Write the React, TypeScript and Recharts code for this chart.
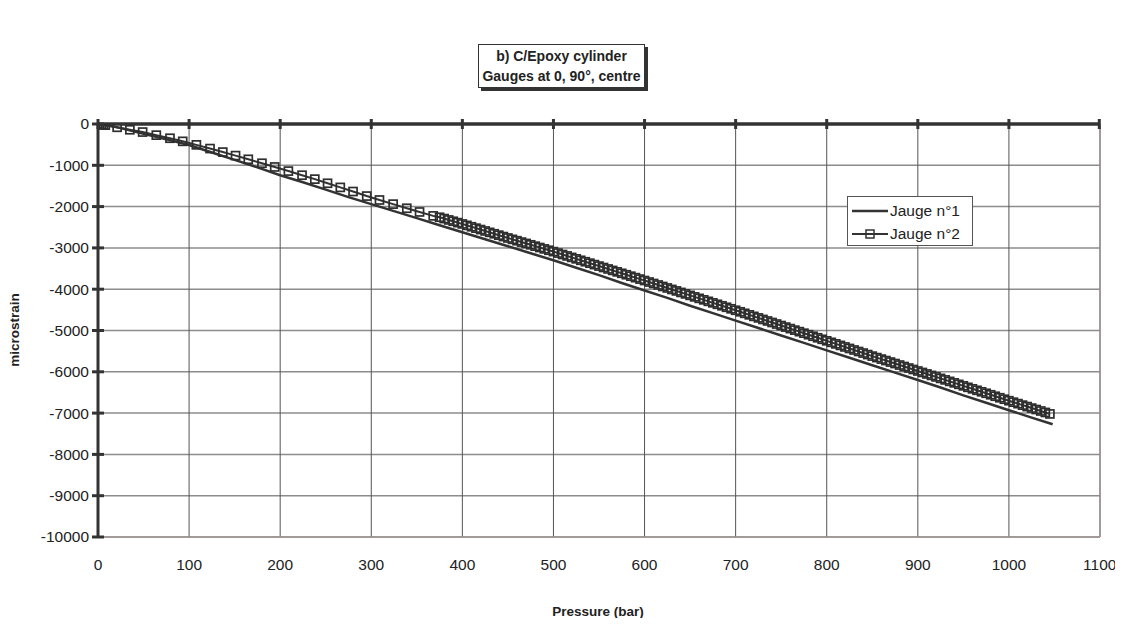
import {
  LineChart,
  Line,
  XAxis,
  YAxis,
  CartesianGrid,
  ReferenceLine,
  Legend,
} from "recharts";

const FONT = '"Liberation Sans", Arial, Helvetica, sans-serif';

// Jauge n°1 (plain line)
const gauge1Pressure = [
  0, 10, 25, 50, 75, 100, 125, 150, 175, 200, 225, 250, 275, 300, 325, 350,
  375, 400, 425, 450, 475, 500, 525, 550, 575, 600, 625, 650, 675, 700, 725,
  750, 775, 800, 825, 850, 875, 900, 925, 950, 975, 1000, 1025, 1048,
];
const gauge1Strain = [
  0, -30, -100, -240, -370, -510, -690, -870, -1050, -1240, -1410, -1590,
  -1770, -1940, -2110, -2280, -2450, -2620, -2790, -2960, -3130, -3300, -3480,
  -3660, -3850, -4030, -4210, -4400, -4580, -4760, -4940, -5120, -5300, -5480,
  -5660, -5840, -6020, -6200, -6380, -6570, -6750, -6930, -7110, -7270,
];

// Jauge n°2 (line with square markers)
const gauge2Pressure = [
  0, 2, 4, 6, 8, 21, 35, 49, 64, 79, 93, 108, 123, 137, 151, 165, 180, 194,
  209, 224, 238, 252, 266, 280, 295, 309, 324, 339, 353, 368,
  375, 380, 385, 390, 395, 400, 405, 410, 415, 420,
  425, 430, 435, 440, 445, 450, 455, 460, 465, 470,
  475, 480, 485, 490, 495, 500, 505, 510, 515, 520,
  525, 530, 535, 540, 545, 550, 555, 560, 565, 570,
  575, 580, 585, 590, 595, 600, 605, 610, 615, 620,
  625, 630, 635, 640, 645, 650, 655, 660, 665, 670,
  675, 680, 685, 690, 695, 700, 705, 710, 715, 720,
  725, 730, 735, 740, 745, 750, 755, 760, 765, 770,
  775, 780, 785, 790, 795, 800, 805, 810, 815, 820,
  825, 830, 835, 840, 845, 850, 855, 860, 865, 870,
  875, 880, 885, 890, 895, 900, 905, 910, 915, 920,
  925, 930, 935, 940, 945, 950, 955, 960, 965, 970,
  975, 980, 985, 990, 995, 1000, 1005, 1010, 1015, 1020,
  1025, 1030, 1035, 1040, 1045,
];
const gauge2Strain = [
  0, -6, -13, -20, -28, -80, -140, -195, -270, -345, -420, -505, -595, -680,
  -765, -855, -950, -1040, -1140, -1240, -1335, -1435, -1535, -1635, -1745,
  -1840, -1940, -2040, -2130, -2225,
  -2258, -2290, -2323, -2355, -2388, -2420, -2454, -2488, -2522, -2556,
  -2590, -2624, -2658, -2692, -2726, -2760, -2793, -2826, -2859, -2892,
  -2925, -2958, -2991, -3024, -3057, -3090, -3125, -3160, -3195, -3230,
  -3265, -3300, -3335, -3370, -3405, -3440, -3475, -3510, -3545, -3580,
  -3615, -3650, -3685, -3720, -3755, -3790, -3826, -3862, -3898, -3934,
  -3970, -4006, -4042, -4078, -4114, -4150, -4186, -4222, -4258, -4294,
  -4330, -4366, -4402, -4438, -4474, -4510, -4547, -4584, -4621, -4658,
  -4695, -4732, -4769, -4806, -4843, -4880, -4917, -4954, -4991, -5028,
  -5065, -5102, -5139, -5176, -5213, -5250, -5287, -5324, -5361, -5398,
  -5435, -5472, -5509, -5546, -5583, -5620, -5656, -5692, -5728, -5764,
  -5800, -5836, -5872, -5908, -5944, -5980, -6016, -6052, -6088, -6124,
  -6160, -6196, -6232, -6268, -6304, -6340, -6376, -6412, -6448, -6484,
  -6520, -6556, -6592, -6628, -6664, -6700, -6736, -6771, -6807, -6842,
  -6878, -6913, -6949, -6984, -7020,
];

const xTicks = [0, 100, 200, 300, 400, 500, 600, 700, 800, 900, 1000, 1100];
const yTicks = [
  0, -1000, -2000, -3000, -4000, -5000, -6000, -7000, -8000, -9000, -10000,
];

const gauge1 = gauge1Pressure.map((p, i) => ({ pressure: p, strain: gauge1Strain[i] }));
const gauge2 = gauge2Pressure.map((p, i) => ({ pressure: p, strain: gauge2Strain[i] }));

const INK = "#333";

function SquareDot(props: any) {
  const { cx, cy, index } = props;
  if (cx == null || cy == null) return null;
  return (
    <rect
      key={`sq-${index}`}
      x={cx - 4}
      y={cy - 4}
      width={8}
      height={8}
      fill="none"
      stroke="#2e2e2e"
      strokeWidth={1.7}
    />
  );
}

function YTick(props: any) {
  const { x, y, payload } = props;
  return (
    <g>
      <line x1={x - 6} x2={x + 6} y1={y} y2={y} stroke={INK} strokeWidth={3} />
      <text
        x={x - 9}
        y={y}
        dy="0.35em"
        textAnchor="end"
        fontSize={15.5}
        fontFamily={FONT}
        fill="#222"
      >
        {payload.value}
      </text>
    </g>
  );
}

function TopTick(props: any) {
  const { x, y } = props;
  return <line x1={x} x2={x} y1={y - 5} y2={y + 5} stroke={INK} strokeWidth={3} />;
}

function LegendBox() {
  const row = { display: "flex", alignItems: "center", height: 23 } as const;
  return (
    <div
      style={{
        border: "1px solid #555",
        background: "#fff",
        width: 126,
        height: 50,
        padding: "2px 0 0 3px",
        boxSizing: "border-box",
        fontFamily: FONT,
        fontSize: 15.5,
        color: "#222",
      }}
    >
      <div style={row}>
        <svg width={38} height={12}>
          <line x1={1} x2={37} y1={6} y2={6} stroke={INK} strokeWidth={2.5} />
        </svg>
        <span style={{ marginLeft: 1 }}>Jauge n°1</span>
      </div>
      <div style={row}>
        <svg width={38} height={12}>
          <line x1={1} x2={37} y1={6} y2={6} stroke={INK} strokeWidth={2} />
          <rect x={15} y={2} width={8} height={8} fill="none" stroke={INK} strokeWidth={1.5} />
        </svg>
        <span style={{ marginLeft: 1 }}>Jauge n°2</span>
      </div>
    </div>
  );
}

export default function App() {
  return (
    <div style={{ position: "relative", width: 1107, height: 610, fontFamily: FONT }}>
      <LineChart
        width={1107}
        height={610}
        margin={{ top: 106, right: 15, left: 10, bottom: 41 }}
      >
        <CartesianGrid horizontal={true} vertical={false} stroke="#8c8c8c" strokeWidth={1.5} />
        <CartesianGrid horizontal={false} vertical={true} stroke="#555" strokeWidth={1} />
        <ReferenceLine x={1100} stroke="#a09595" strokeWidth={1.5} />
        <ReferenceLine y={0} stroke={INK} strokeWidth={3} />
        <XAxis
          type="number"
          dataKey="pressure"
          domain={[0, 1100]}
          ticks={xTicks}
          allowDataOverflow
          height={40}
          tickSize={0}
          tickMargin={22}
          axisLine={{ stroke: "#a09595", strokeWidth: 1.5 }}
          tick={{ fontSize: 15.5, fill: "#222", fontFamily: FONT }}
        />
        <XAxis
          xAxisId="top"
          orientation="top"
          type="number"
          dataKey="pressure"
          domain={[0, 1100]}
          ticks={xTicks}
          allowDataOverflow
          height={10}
          tickSize={0}
          tickMargin={0}
          axisLine={{ stroke: INK, strokeWidth: 3 }}
          tick={<TopTick />}
        />
        <YAxis
          type="number"
          domain={[-10000, 0]}
          ticks={yTicks}
          allowDataOverflow
          width={80}
          tickSize={0}
          tickMargin={0}
          axisLine={{ stroke: INK, strokeWidth: 3 }}
          tick={<YTick />}
        />
        <Legend
          layout="vertical"
          align="center"
          verticalAlign="middle"
          content={<LegendBox />}
          wrapperStyle={{ position: "absolute", left: 839, top: 188, width: 126 }}
        />
        <Line
          data={gauge1}
          dataKey="strain"
          name="Jauge n°1"
          stroke={INK}
          strokeWidth={2.5}
          dot={false}
          isAnimationActive={false}
        />
        <Line
          data={gauge2}
          dataKey="strain"
          name="Jauge n°2"
          stroke={INK}
          strokeWidth={2}
          dot={<SquareDot />}
          isAnimationActive={false}
        />
      </LineChart>

      <div
        style={{
          position: "absolute",
          left: 470,
          top: 36,
          width: 167,
          height: 44,
          boxSizing: "border-box",
          border: "1px solid #333",
          boxShadow: "3px 3px 0 #333",
          background: "#fff",
          fontWeight: "bold",
          fontSize: 14,
          color: "#222",
          textAlign: "center",
          lineHeight: "20px",
          paddingTop: 1,
        }}
      >
        <div>b) C/Epoxy cylinder</div>
        <div>Gauges at 0, 90°, centre</div>
      </div>

      <div
        style={{
          position: "absolute",
          left: 6,
          top: 322,
          transform: "translate(-50%, -50%) rotate(-90deg)",
          fontWeight: "bold",
          fontSize: 13.5,
          color: "#222",
          whiteSpace: "nowrap",
        }}
      >
        microstrain
      </div>
      <div
        style={{
          position: "absolute",
          left: 590,
          top: 603,
          transform: "translate(-50%, -50%)",
          fontWeight: "bold",
          fontSize: 13.5,
          color: "#222",
          whiteSpace: "nowrap",
        }}
      >
        Pressure (bar)
      </div>
    </div>
  );
}
